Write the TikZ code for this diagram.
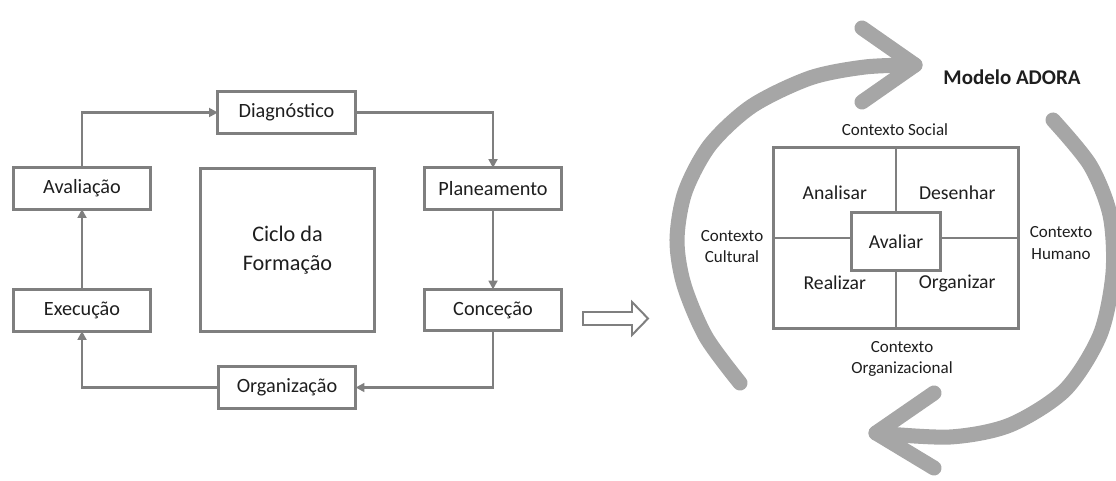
\documentclass[tikz,border=0pt]{standalone}
\usepackage{fontspec}
\setmainfont{Carlito}
\usetikzlibrary{positioning}
\usetikzlibrary{arrows.meta}
\definecolor{boxgray}{HTML}{7F7F7F}
\definecolor{bandgray}{HTML}{A6A6A6}
\definecolor{inkgray}{HTML}{1E1E1E}
\newcommand{\fsStage}{\fontsize{14.4}{17}\selectfont}
\newcommand{\fsCiclo}{\fontsize{15.8}{20.6}\selectfont}
\newcommand{\fsQuad}{\fontsize{14}{17}\selectfont}
\newcommand{\fsCtx}{\fontsize{12.1}{15}\selectfont}
\newcommand{\fsTitle}{\fontsize{14.9}{18}\selectfont\bfseries}
\tikzstyle{stage} = [draw=boxgray,fill=white,text=inkgray,line width=2.1pt,inner sep=0pt,outer sep=0pt,minimum width=3.43cm,minimum height=1.03cm,font=\fsStage]
\tikzstyle{flow} = [draw=boxgray,line width=1.6pt,-{Triangle[length=0.22cm,width=0.22cm]}]
\tikzstyle{quad} = [draw=boxgray,text=inkgray,line width=2.1pt,inner sep=0pt,outer sep=0pt,minimum width=3.06cm,minimum height=2.26cm,font=\fsQuad]
\tikzstyle{ctx} = [text=inkgray,align=center,inner sep=0pt,font=\fsCtx]
\tikzstyle{loopband} = [draw=bandgray,line width=10.7pt,line cap=round,line join=round]

\begin{document}
\begin{tikzpicture}[x=0.025cm,y=0.025cm]
\useasboundingbox (0,0) rectangle (1116,480);

% Define nodes (ciclo)
\node[stage]                         (diag)  at (286.5,367.5) {Diagnóstico};
\node[stage]                         (plan)  at (493,291.5)   {Planeamento};
\node[stage]                         (conc)  at (493,170)     {Conceção};
\node[stage]                         (org)   at (287,92.5)    {Organização};
\node[stage]                         (exec)  at (82,169.5)    {Execução};
\node[stage]                         (aval)  at (82,291.5)    {Avaliação};
\node[stage, minimum width=4.35cm, minimum height=4.08cm, align=center, font=\fsCiclo]
                                     (ciclo) at (287.5,230)   {Ciclo da\\Formação};

% Edges
\draw[flow] (aval.north) |- (diag.west);
\draw[flow] (diag.east)  -| (plan.north);
\draw[flow] (plan)       -- (conc);
\draw[flow] (conc.south) |- (org.east);
\draw[flow] (org.west)   -| (exec.south);
\draw[flow] (exec)       -- (aval);

% passagem
\draw[draw=boxgray, fill=white, line width=1.4pt, line join=miter]
  (583,168) -- (632,168) -- (632,178) -- (648,161.5) -- (632,145) -- (632,155) -- (583,155) -- cycle;

% Modelo ADORA
\coordinate (hub) at (896,242);
\node[quad, anchor=south east]       (ana)   at (hub) {Analisar};
\node[quad, anchor=south west]       (des)   at (hub) {Desenhar};
\node[quad, anchor=north east]       (rea)   at (hub) {Realizar};
\node[quad, anchor=north west]       (orz)   at (hub) {Organizar};
\node[quad, fill=white, minimum width=2.22cm, minimum height=1.45cm]
                                     (core)  at (896,238.5) {Avaliar};

\node[ctx]                           (social) at (895,350)    {Contexto Social};
\node[ctx]                           (cult)   at (732,233.5)  {Contexto\\Cultural};
\node[ctx]                           (hum)    at (1061,237)   {Contexto\\Humano};
\node[ctx]                           (orgc)   at (902,121.5)  {Contexto\\Organizacional};
\node[text=inkgray, font=\fsTitle]   (title)  at (1012,403)   {Modelo ADORA};

% setas do ciclo
\coordinate (tipA) at (915,415);
\coordinate (tipB) at (876,47);
\draw[loopband] plot[smooth] coordinates {(740,97) (706,143) (684,195) (677,240) (685,288) (710,335) (752,374) (810,402) (865,413) (915,415)};
\draw[loopband] (862,452) -- (tipA) -- (862,378);
\draw[loopband] plot[smooth] coordinates {(1053,360) (1090,315) (1110,265) (1113,207) (1100,145) (1065,90) (1010,55) (950,43) (876,47)};
\draw[loopband] (934,87) -- (tipB) -- (934,12);
\end{tikzpicture}
\end{document}
